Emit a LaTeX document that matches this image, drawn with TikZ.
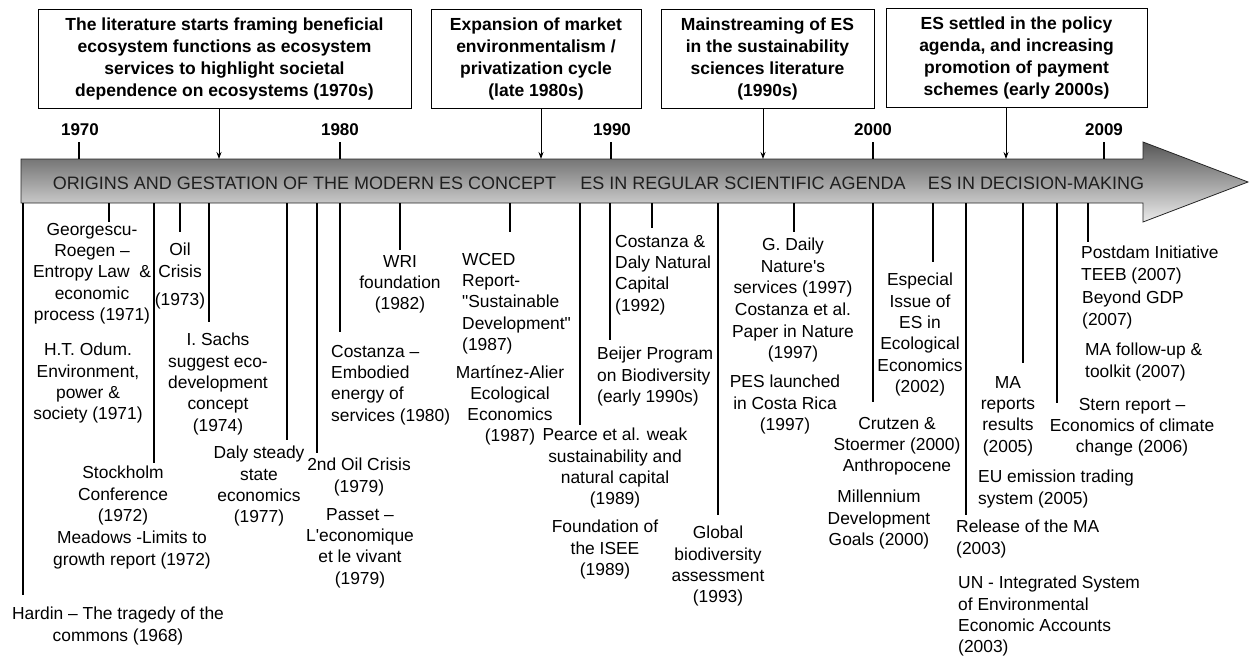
\documentclass[tikz,border=0pt]{standalone}
\usepackage{fontspec}
\setmainfont{Liberation Sans}[Ligatures=TeXOff]
\usetikzlibrary{arrows.meta}
\begin{document}
\begin{tikzpicture}[x=1pt,y=-1pt,
  ev/.style={font=\fontsize{17.4}{21.3}\selectfont, align=center, inner sep=0pt, anchor=north},
  evl/.style={font=\fontsize{17.4}{21.3}\selectfont, align=left, inner sep=0pt, anchor=north west},
  tick/.style={line width=1.1pt, black},
  period/.style={draw, line width=1pt, font=\bfseries\fontsize{17.5}{22}\selectfont, align=center, inner sep=0pt, minimum height=99pt},
  yr/.style={font=\bfseries\fontsize{17}{19}\selectfont, inner sep=0pt},
  phase/.style={font=\fontsize{18}{20}\selectfont, text=black!88, inner sep=0pt},
  arr/.style={line width=1pt, -{Stealth[length=7pt,width=5pt]}}]
\useasboundingbox (0,0) rectangle (1250,659);

% main timeline arrow
\path[draw=black!85, line width=0.8pt, top color=black!66, bottom color=black!8]
  (21,159) -- (1143,159) -- (1143,142) -- (1248,182) -- (1143,222) -- (1143,203) -- (21,203) -- cycle;
\node[phase] (p1) at (304.5,183) {ORIGINS AND GESTATION OF THE MODERN ES CONCEPT};
\node[phase] (p2) at (743,183) {ES IN REGULAR SCIENTIFIC AGENDA};
\node[phase] (p3) at (1036,183) {ES IN DECISION-MAKING};

% period boxes
\node[period, minimum width=373pt] (b1) at (224.5,58.5) {The literature starts framing beneficial\\ecosystem functions as ecosystem\\services to highlight societal\\dependence on ecosystems (1970s)};
\node[period, minimum width=210pt] (b2) at (536,58.5) {Expansion of market\\environmentalism /\\privatization cycle\\(late 1980s)};
\node[period, minimum width=213pt] (b3) at (767.5,58.5) {Mainstreaming of ES\\in the sustainability\\sciences literature\\(1990s)};
\node[period, minimum width=261pt] (b4) at (1016.5,57.5) {ES settled in the policy\\agenda, and increasing\\promotion of payment\\schemes (early 2000s)};
\coordinate (a1) at (219,159);
\coordinate (a2) at (541,159);
\coordinate (a3) at (763,159);
\coordinate (a4) at (1006,159);
\draw[arr] (b1.south -| a1) -- (a1);
\draw[arr] (b2.south -| a2) -- (a2);
\draw[arr] (b3.south -| a3) -- (a3);
\draw[arr] (b4.south -| a4) -- (a4);

% years
\node[yr] (y1970) at (80,130) {1970};
\node[yr] (y1980) at (340,130) {1980};
\node[yr] (y1990) at (612,130) {1990};
\node[yr] (y2000) at (873,130) {2000};
\node[yr] (y2009) at (1104,130) {2009};
\foreach \x in {79,340,611,873,1104} \draw[tick] (\x,142) -- (\x,159);

% event ticks
\foreach \x/\e in {23/595,109/222,154/463,180/232,209/322,287/440,317/453,340/332,400/250,510/232,580/425,610/340,652/228,718/515,794/232,873/402,933/262,966/515,1023/363,1057/403,1088/242}
  \draw[tick] (\x,203) -- (\x,\e);

% events
\node[ev] (hardin) at (118,607) {Hardin – The tragedy of the\\commons (1968)};
\node[ev] (georg) at (92,223) {Georgescu-\\Roegen –\\Entropy Law\ \ \&\\economic\\process (1971)};
\node[ev] (odum) at (88,343) {H.T. Odum.\\Environment,\\power \&\\society (1971)};
\node[ev] (oil) at (180,243) {Oil\\Crisis\\[7pt](1973)};
\node[ev] (sachs) at (218,333) {I. Sachs\\suggest eco-\\development\\concept\\(1974)};
\node[ev] (stock) at (123,466) {Stockholm\\Conference\\(1972)};
\node[ev] (meadows) at (132,531) {Meadows -Limits to\\growth report (1972)};
\node[ev] (daly) at (259,446) {Daly steady\\state\\economics\\(1977)};
\node[ev] (oil2) at (359,458) {2nd Oil Crisis\\(1979)};
\node[ev] (passet) at (360,508) {Passet –\\L'economique\\et le vivant\\(1979)};
\node[evl] (cost80) at (331,345) {Costanza –\\Embodied\\energy of\\services (1980)};
\node[ev] (wri) at (400,255) {WRI\\foundation\\(1982)};
\node[evl] (wced) at (462,253) {WCED\\Report-\\"Sustainable\\Development"\\(1987)};
\node[ev] (martinez) at (510,365) {Martínez-Alier\\Ecological\\Economics\\(1987)};
\node[ev] (pearce) at (615,428) {Pearce et al. weak\\sustainability and\\natural capital\\(1989)};
\node[ev] (isee) at (605,520) {Foundation of\\the ISEE\\(1989)};
\node[evl] (costdaly) at (615,235) {Costanza \&\\Daly Natural\\Capital\\(1992)};
\node[evl] (beijer) at (597,347) {Beijer Program\\on Biodiversity\\(early 1990s)};
\node[ev] (global) at (718,526) {Global\\biodiversity\\assessment\\(1993)};
\node[ev] (gdaily) at (793,238) {G. Daily\\Nature's\\services (1997)};
\node[ev] (costetal) at (793,303) {Costanza et al.\\Paper in Nature\\(1997)};
\node[ev] (pes) at (785,375) {PES launched\\in Costa Rica\\(1997)};
\node[ev] (especial) at (920,273) {Especial\\Issue of\\ES in\\Ecological\\Economics\\(2002)};
\node[ev] (crutzen) at (897,417) {Crutzen \&\\Stoermer (2000)\\Anthropocene};
\node[ev] (mdg) at (879,490) {Millennium\\Development\\Goals (2000)};
\node[ev] (mareports) at (1008,376) {MA\\reports\\results\\(2005)};
\node[evl] (eu) at (978,470) {EU emission trading\\system (2005)};
\node[evl] (release) at (956,520) {Release of the MA\\(2003)};
\node[evl] (un) at (958,576) {UN - Integrated System\\of Environmental\\Economic Accounts\\(2003)};
\node[ev] (stern) at (1132,398) {Stern report –\\Economics of climate\\change (2006)};
\node[evl] (postdam) at (1081,246) {Postdam Initiative\\TEEB (2007)};
\node[evl] (beyond) at (1082,291) {Beyond GDP\\(2007)};
\node[evl] (mafollow) at (1085,343) {MA follow-up \&\\toolkit (2007)};
\end{tikzpicture}
\end{document}
